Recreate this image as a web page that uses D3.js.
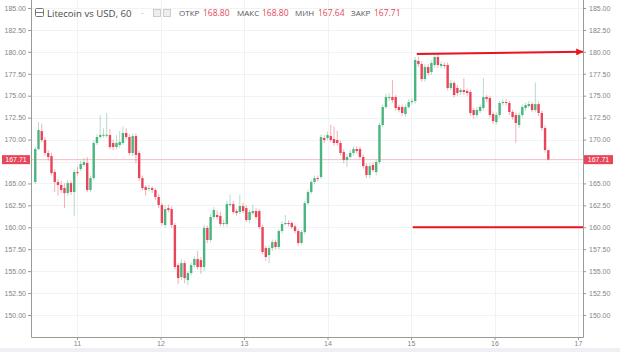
<!DOCTYPE html>
<html>
<head>
<meta charset="utf-8">
<script src="https://cdn.jsdelivr.net/npm/d3@7"></script>
<style>
  body { margin: 0; background: #fff; }
  svg { display: block; }
</style>
</head>
<body>
<div id="container"></div>
<script>
let w = 620;
let h = 352;

// DATA - hourly candles, Litecoin vs USD
let opens = [165.16,168.92,170.97,169.95,168.47,168.12,166.30,165.16,164.82,164.47,163.90,165.04,164.02,166.30,166.64,167.10,167.33,164.25,165.61,169.61,
  170.29,170.45,170.45,170.52,169.61,169.15,169.38,169.61,170.75,170.29,168.47,170.40,168.47,165.61,164.59,164.36,164.47,164.25,163.45,162.54,
  160.26,162.19,162.08,160.26,155.69,154.32,155.92,153.98,154.78,155.69,156.38,156.26,155.47,159.92,158.55,161.17,161.40,161.28,160.37,160.37,
  162.54,162.65,161.85,161.74,162.42,162.19,160.83,161.62,161.85,161.85,160.03,157.63,156.84,157.63,158.32,157.75,159.57,160.37,160.49,160.49,
  160.10,159.57,158.21,159.46,162.76,164.02,165.16,165.61,165.73,170.18,170.18,170.40,170.06,169.95,169.61,168.58,167.67,168.01,168.47,168.92,
  168.92,168.01,166.98,165.96,167.10,166.30,167.44,171.66,173.71,174.74,174.85,174.85,173.71,173.71,172.91,173.71,174.28,174.39,178.96,178.61,
  176.90,178.27,177.70,178.50,179.41,178.39,178.50,178.50,175.88,176.45,175.88,175.42,175.65,175.54,175.42,173.37,172.80,173.26,173.60,174.85,
  174.74,172.91,172.00,172.80,174.17,174.28,174.17,173.14,172.80,171.66,172.80,173.60,173.82,174.05,173.37,174.05,173.03,171.32,168.80];
let highs = [169.20,172.00,171.80,170.30,168.80,168.50,166.60,165.50,165.30,165.00,165.40,165.30,166.60,166.90,167.60,167.90,168.00,165.90,169.90,170.60,
  172.80,171.30,173.00,171.20,170.00,170.50,171.00,171.50,171.30,170.60,170.70,170.70,168.70,165.90,164.80,164.80,164.70,164.50,163.80,162.80,
  162.50,162.60,162.40,160.50,155.90,156.40,156.20,155.00,156.00,156.70,157.30,156.60,160.30,160.20,161.50,162.30,161.90,161.80,160.90,163.00,
  163.70,163.00,162.10,163.70,162.80,162.50,162.00,162.60,162.20,162.10,160.30,157.90,157.90,158.60,158.60,159.80,160.70,161.40,160.80,160.70,
  160.30,159.80,159.70,163.00,164.30,165.40,165.90,165.90,170.60,170.50,170.90,171.70,171.50,171.00,169.90,168.90,168.30,168.80,169.20,169.20,
  169.20,168.30,167.30,167.30,167.40,167.70,171.90,174.00,175.20,175.30,176.80,175.10,174.00,174.00,174.00,174.60,174.70,179.40,179.41,178.90,
  178.60,178.60,179.00,179.70,179.80,178.90,178.80,178.80,176.80,176.70,176.20,175.90,177.00,175.80,175.70,173.60,173.70,174.00,177.00,175.10,
  175.00,173.20,173.10,174.40,174.60,174.60,174.40,173.40,173.10,173.10,174.00,174.20,174.40,174.30,176.50,174.30,173.30,171.60,168.80];
let lows = [164.90,168.80,169.70,168.20,167.60,165.90,164.00,163.60,163.90,162.20,163.60,163.70,161.30,165.90,166.40,166.90,164.00,164.00,165.40,169.40,
  170.10,170.20,170.20,168.90,168.80,168.90,169.10,169.40,170.00,168.20,168.10,167.30,165.30,164.20,163.60,164.10,163.90,163.10,162.20,160.20,
  160.00,161.70,159.90,155.20,153.50,154.00,153.60,153.40,154.50,155.40,155.20,154.70,155.00,158.20,158.30,160.90,160.90,160.10,160.10,160.10,
  162.30,161.50,161.30,161.50,161.60,160.60,160.50,161.40,160.90,159.80,156.90,156.20,155.90,157.30,157.50,157.50,159.30,160.20,160.10,159.80,
  159.30,157.90,158.00,159.20,162.50,163.80,164.90,165.20,165.50,169.60,169.90,169.70,169.30,169.30,168.20,167.30,166.90,167.80,168.20,168.40,
  167.80,166.70,165.60,165.60,166.30,165.90,167.20,171.40,173.50,174.40,174.20,173.30,173.10,172.70,172.60,173.50,174.00,174.10,178.30,176.60,
  176.60,177.30,177.40,178.20,178.20,178.10,178.10,175.60,175.60,174.80,175.00,175.10,175.10,175.00,172.70,172.40,172.50,173.00,173.30,174.30,
  172.50,171.80,171.70,172.50,173.90,173.90,172.80,172.30,169.60,171.30,172.50,173.30,173.60,173.10,173.10,172.70,171.00,168.50,167.64];
let closes = [168.92,171.09,169.95,168.47,168.01,166.18,165.16,164.82,164.25,163.90,165.04,164.02,166.30,166.18,167.21,167.44,164.25,165.61,169.61,170.29,
  170.52,170.55,170.55,169.15,169.15,169.61,169.72,170.75,170.29,168.47,170.40,168.24,165.61,164.47,164.25,164.47,164.25,163.45,162.54,160.49,
  162.08,161.97,160.26,155.47,154.21,155.92,154.21,154.78,155.69,156.38,155.47,155.47,159.92,158.55,161.17,161.97,161.17,160.37,160.49,162.65,
  162.65,161.74,161.62,162.42,161.85,160.83,161.74,161.85,161.17,160.03,157.18,156.61,157.63,158.32,157.75,159.57,160.37,160.49,160.37,160.03,
  159.57,158.21,159.46,162.76,164.02,165.16,165.61,165.50,170.29,169.95,170.52,169.95,169.61,169.61,168.47,167.67,168.01,168.47,168.92,168.69,
  168.01,166.98,165.96,166.98,166.53,167.44,171.66,173.71,174.85,174.85,174.51,173.60,173.37,173.03,173.71,174.28,174.39,179.07,178.61,176.90,
  178.27,177.59,178.73,179.41,178.50,178.61,178.39,175.88,176.45,175.08,175.31,175.65,175.42,175.31,173.03,172.80,173.37,173.71,174.85,174.62,
  172.80,172.11,172.80,174.17,174.28,174.17,173.14,172.57,171.89,172.80,173.71,173.94,174.05,173.37,174.05,173.03,171.32,168.81,167.71];

let firstBar = new Date(2018, 4, 10, 12, 0);
let barMinutes = 56;

let yTicks = d3.range(150, 185.01, 2.5);
let dayTicks = d3.range(11, 18).map(d => new Date(2018, 4, d));

let lastPrice = 167.71;
let legendTitle = "Litecoin vs USD, 60";
let legendNames = ["ОТКР", "МАКС", "МИН", "ЗАКР"];
let legendValues = ["168.80", "168.80", "167.64", "167.71"];

// drawn trend lines
let lineStarts = [new Date(2018, 4, 15, 1, 40), new Date(2018, 4, 15, 0, 30)];
let lineEnds = [new Date(2018, 4, 17, 1, 30), new Date(2018, 4, 17, 1, 30)];
let lineStartPrices = [179.75, 160.0];
let lineEndPrices = [180.0, 160.0];

let candles = closes.map((c, i) => ({
  t: new Date(firstBar.getTime() + i * barMinutes * 60000),
  o: opens[i], h: highs[i], l: lows[i], c: c
}));

let left = 31, right = 583, bottom = 337;
let up = "#4bb57f", down = "#e8455a";

let viz = d3.select("#container").append("svg")
  .attr("width", w)
  .attr("height", h)
  .style("background-color", "white");

let x = d3.scaleTime().domain([dayTicks[0], dayTicks[6]]).range([77, 578]);
let y = d3.scaleLinear().domain([150, 185]).range([315, 8]);

// bottom strip
viz.append("rect").attr("x", 0).attr("y", 348).attr("width", w).attr("height", h - 348).attr("fill", "#eef0f3");

// GRID
viz.selectAll(".hgrid").data(yTicks).enter().append("line")
  .attr("class", "hgrid")
  .attr("x1", left).attr("x2", right)
  .attr("y1", d => Math.round(y(d)) + 0.5).attr("y2", d => Math.round(y(d)) + 0.5)
  .attr("stroke", "#f1f2f4");
viz.selectAll(".vgrid").data(dayTicks).enter().append("line")
  .attr("class", "vgrid")
  .attr("x1", d => Math.round(x(d)) + 0.5).attr("x2", d => Math.round(x(d)) + 0.5)
  .attr("y1", 0).attr("y2", bottom)
  .attr("stroke", "#f1f2f4");

// last price line
viz.append("line")
  .attr("x1", left).attr("x2", right)
  .attr("y1", y(lastPrice)).attr("y2", y(lastPrice))
  .attr("stroke", "#f5bcc2").attr("stroke-width", 1);

// CANDLES
viz.append("clipPath").attr("id", "plot")
  .append("rect").attr("x", left).attr("y", 0).attr("width", right - left).attr("height", bottom);
let g = viz.append("g").attr("clip-path", "url(#plot)");
let bw = 2.4;

g.selectAll(".wick").data(candles).enter().append("line")
  .attr("class", "wick")
  .attr("x1", d => x(d.t)).attr("x2", d => x(d.t))
  .attr("y1", d => y(d.h)).attr("y2", d => y(d.l))
  .attr("stroke", d => d.c >= d.o ? up : down)
  .attr("stroke-opacity", 0.55)
  .attr("stroke-width", 0.8);

g.selectAll(".body").data(candles).enter().append("rect")
  .attr("class", "body")
  .attr("x", d => x(d.t) - bw / 2)
  .attr("width", bw)
  .attr("y", d => y(Math.max(d.o, d.c)))
  .attr("height", d => Math.max(1, Math.abs(y(d.o) - y(d.c))))
  .attr("fill", d => d.c >= d.o ? up : down);

// trend lines
viz.append("defs").append("marker")
  .attr("id", "arrow")
  .attr("markerUnits", "userSpaceOnUse")
  .attr("viewBox", "0 0 10 10")
  .attr("refX", 10).attr("refY", 5)
  .attr("markerWidth", 9).attr("markerHeight", 7)
  .attr("orient", "auto")
  .append("path").attr("d", "M0,0L10,5L0,10Z").attr("fill", "#e8141e");

viz.selectAll(".trend").data(lineStarts).enter().append("line")
  .attr("class", "trend")
  .attr("x1", (d, i) => x(d)).attr("y1", (d, i) => y(lineStartPrices[i]))
  .attr("x2", (d, i) => x(lineEnds[i])).attr("y2", (d, i) => y(lineEndPrices[i]))
  .attr("stroke", "#e8141e")
  .attr("stroke-width", 2)
  .attr("marker-end", (d, i) => i == 0 ? "url(#arrow)" : null);

// AXES - the price label hides the tick right under it
let axisTicks = yTicks.filter(d => Math.abs(y(d) - y(lastPrice)) > 6);

function styleAxis(sel) {
  sel.select(".domain").remove();
  sel.selectAll(".tick line").attr("stroke", "#999");
  sel.selectAll(".tick text").attr("fill", "#858585")
    .style("font-family", "'Liberation Sans', Arial, sans-serif")
    .style("font-size", "7px");
}

viz.append("g").attr("transform", `translate(${left},0)`)
  .call(d3.axisLeft(y).tickValues(axisTicks).tickFormat(d3.format(".2f")).tickSize(3).tickPadding(2))
  .call(styleAxis);
viz.append("g").attr("transform", `translate(${right},0)`)
  .call(d3.axisRight(y).tickValues(axisTicks).tickFormat(d3.format(".2f")).tickSize(3).tickPadding(3))
  .call(styleAxis);
viz.append("g").attr("transform", `translate(0,${bottom})`)
  .call(d3.axisBottom(x).tickValues(dayTicks).tickFormat(d3.timeFormat("%-d")).tickSize(3).tickPadding(1))
  .call(styleAxis);

// frame
viz.append("path")
  .attr("d", `M${left + 0.5},0V${bottom + 0.5}H${right + 0.5}V0`)
  .attr("fill", "none").attr("stroke", "#9a9a9a");

// price labels
[[2, left - 1], [right + 1, 613]].forEach(p => {
  viz.append("rect")
    .attr("x", p[0]).attr("y", y(lastPrice) - 4.5)
    .attr("width", p[1] - p[0]).attr("height", 9)
    .attr("fill", down);
  viz.append("text")
    .attr("x", (p[0] + p[1]) / 2).attr("y", y(lastPrice) + 2.5)
    .attr("text-anchor", "middle")
    .attr("fill", "white")
    .style("font-family", "'Liberation Sans', Arial, sans-serif")
    .style("font-size", "7px")
    .text(lastPrice.toFixed(2));
});

// LEGEND
let lg = viz.append("g");
lg.append("rect").attr("x", 35.5).attr("y", 8.5).attr("width", 8).attr("height", 8)
  .attr("fill", "none").attr("stroke", "#777").attr("rx", 1);
lg.append("line").attr("x1", 35.5).attr("x2", 43.5).attr("y1", 12.5).attr("y2", 12.5).attr("stroke", "#777");
lg.append("text").attr("x", 47).attr("y", 16.5)
  .attr("fill", "#4a4a4a")
  .style("font-family", "'Open Sans', sans-serif")
  .style("font-size", "9.6px")
  .text(legendTitle);
lg.append("text").attr("x", 141).attr("y", 15)
  .attr("fill", "#aaa").style("font-family", "'Open Sans', sans-serif").style("font-size", "8px").text("-");
[153, 163].forEach(px => {
  lg.append("rect").attr("x", px + 0.5).attr("y", 9.5).attr("width", 7).attr("height", 7)
    .attr("fill", "#eee").attr("stroke", "#ccc");
});
let nameX = [179, 237, 295, 351];
let valueX = [203, 262, 318, 374];
legendNames.forEach((n, i) => {
  lg.append("text").attr("x", nameX[i]).attr("y", 16)
    .attr("fill", "#555")
    .style("font-family", "'Open Sans', sans-serif")
    .style("font-size", "8px")
    .text(n);
  lg.append("text").attr("x", valueX[i]).attr("y", 16)
    .attr("fill", down)
    .style("font-family", "'Open Sans', sans-serif")
    .style("font-size", "8.5px")
    .text(legendValues[i]);
});
</script>
</body>
</html>
